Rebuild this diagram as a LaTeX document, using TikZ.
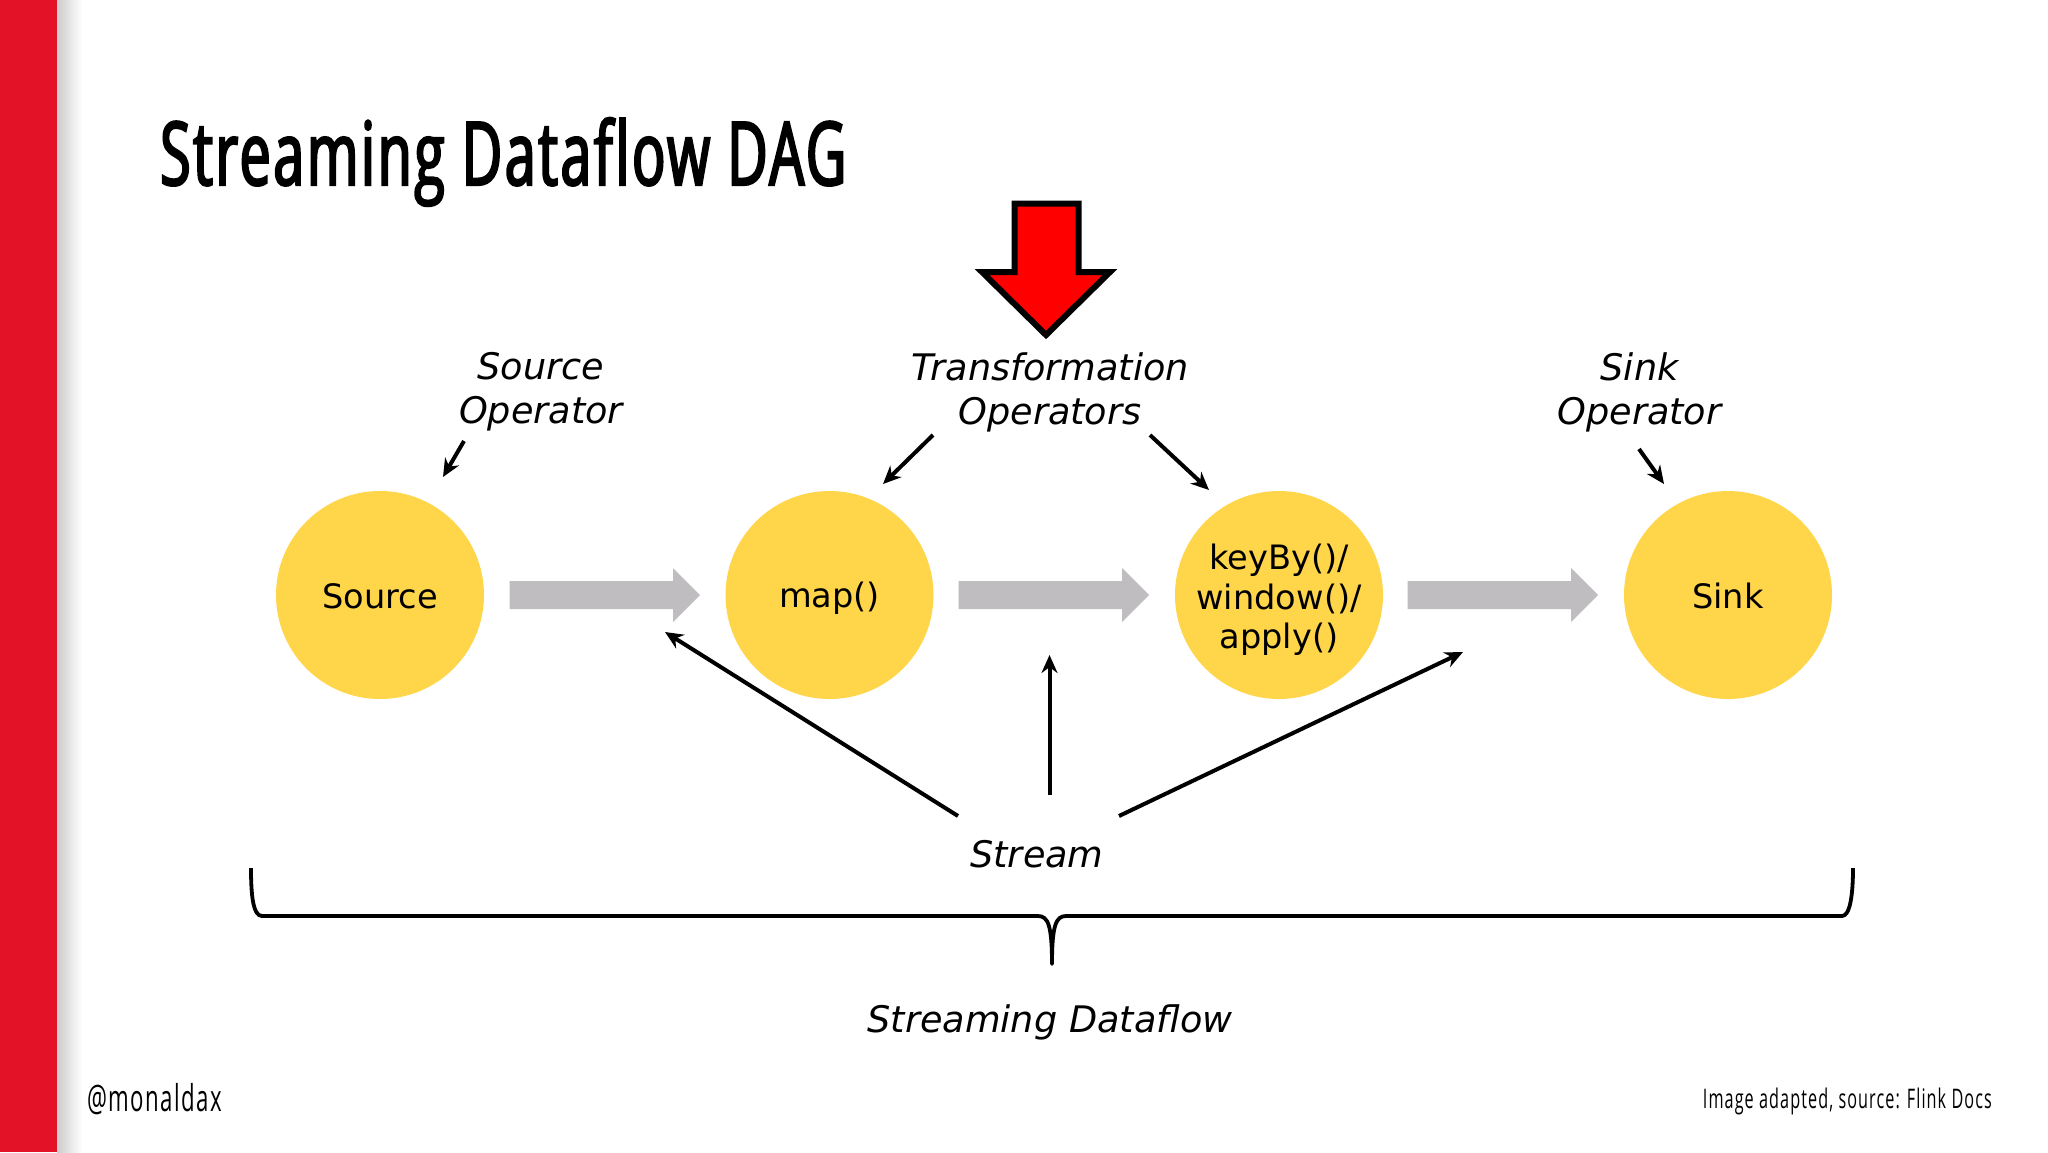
\documentclass[tikz,border=0pt]{standalone}
\usepackage{fontspec}
\usetikzlibrary{arrows.meta}
\setmainfont{DejaVu Sans}
\newfontfamily\titlefont[FakeStretch=0.63,FakeBold=2.5,LetterSpace=3,Ligatures=NoCommon]{Open Sans}
\newfontfamily\footfont[FakeStretch=0.6,LetterSpace=4]{Open Sans}
\definecolor{barred}{HTML}{E31226}
\definecolor{opyellow}{HTML}{FFD54A}
\definecolor{flowgrey}{HTML}{BFBDC0}
\definecolor{bigred}{HTML}{FF0000}
\newcommand{\ophead}{\rule{0pt}{31pt}}
\newcommand{\opheadtall}{\rule{0pt}{35pt}}
\newcommand{\optail}{\rule[-5pt]{0pt}{5pt}}
\tikzset{
  opnode/.style={circle,fill=opyellow,minimum size=208pt,inner sep=0pt,align=center,
    font=\fontsize{33.6}{39.5}\selectfont},
  caption/.style={inner sep=0pt,align=center,font=\fontsize{36.6}{44}\selectfont\itshape},
  thinarrow/.style={draw=black,line width=4pt,-{Stealth[length=18pt,width=16pt]}},
  flowarrow/.style={fill=flowgrey},
}
\begin{document}
\begin{tikzpicture}[x=1pt,y=-1pt]
\useasboundingbox (0,0) rectangle (2048,1152);
\fill[white] (0,0) rectangle (2048,1152);
\shade[left color=black!20,right color=white] (57,0) rectangle (82,1152);
\fill[barred] (0,0) rectangle (57,1152);
\node[anchor=base west,inner sep=0pt,font=\titlefont\fontsize{88}{100}\selectfont] (title) at (160,185) {Streaming Dataflow DAG};
% big red arrow
\draw[fill=bigred,line width=6pt,miter limit=10] (1014.5,203.5) -- (1078.5,203.5) -- (1078.5,272) -- (1110,272) -- (1046,335) -- (982,272) -- (1014.5,272) -- cycle;
% operators
\node[opnode] (source) at (380,595) {\ophead Source\optail};
\node[opnode] (map) at (829.5,595) {\ophead map()\optail};
\node[opnode] (keyby) at (1279,595) {\opheadtall keyBy()/\\window()/\\apply()\optail};
\node[opnode] (sink) at (1728,595) {\ophead Sink\optail};
% grey flow arrows
\foreach \n/\dx in {a/0,b/449,c/898}{
  \fill[flowarrow,shift={(\dx,0)}] (509.5,581) -- (673,581) -- (673,568) -- (700,595) -- (673,622) -- (673,609) -- (509.5,609) -- cycle;
}
% captions
\node[caption] (srcop) at (541,392) {Source\\Operator};
\node[caption] (transop) at (1050,392) {Transformation\\Operators};
\node[caption] (sinkop) at (1639.5,392) {Sink\\Operator};
\node[caption] (stream) at (1037,854) {Stream};
\node[caption] (dataflow) at (1050,1022) {Streaming Dataflow};
% free ends
\coordinate (s1) at (464,441); \coordinate (s2) at (443,477);
\coordinate (t1) at (933,435); \coordinate (t2) at (883,484);
\coordinate (u1) at (1150,435); \coordinate (u2) at (1209,490);
\coordinate (k1) at (1639,449); \coordinate (k2) at (1664,484);
\coordinate (v1) at (958,816); \coordinate (v2) at (665,632);
\coordinate (w1) at (1049.5,795); \coordinate (w2) at (1049.5,655);
\coordinate (x1) at (1119,816); \coordinate (x2) at (1463,652);
\draw[thinarrow] (s1) -- (s2);
\draw[thinarrow] (t1) -- (t2);
\draw[thinarrow] (u1) -- (u2);
\draw[thinarrow] (k1) -- (k2);
\draw[thinarrow] (v1) -- (v2);
\draw[thinarrow] (w1) -- (w2);
\draw[thinarrow] (x1) -- (x2);
% brace
\draw[line width=3.8pt,line join=round] (251,868) .. controls (251,895) and (253,916) .. (262,916) -- (1038,916) .. controls (1048,916) and (1052,925) .. (1052,964) .. controls (1052,925) and (1056,916) .. (1066,916) -- (1842,916) .. controls (1850,916) and (1853,895) .. (1853,868);
% footer
\node[anchor=base west,inner sep=0pt,font=\footfont\fontsize{37}{40}\selectfont] (handle) at (87,1111) {@monaldax};
\node[anchor=base east,inner sep=0pt,font=\footfont\fontsize{27}{32}\selectfont] (credit) at (1992,1108) {Image adapted, source: Flink Docs};
\end{tikzpicture}
\end{document}
